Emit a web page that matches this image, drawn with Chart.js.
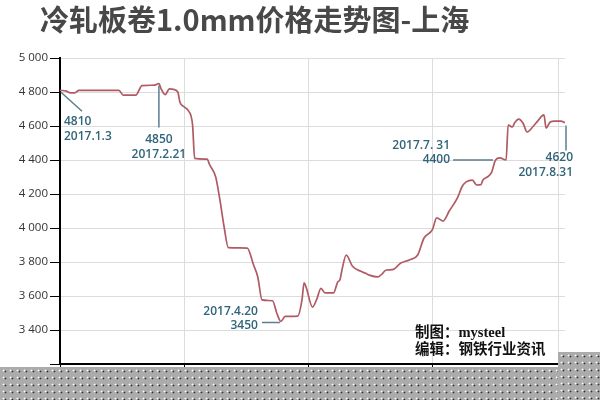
<!DOCTYPE html>
<html>
<head>
<meta charset="utf-8">
<script src="https://cdn.jsdelivr.net/npm/chart.js@4.4.1/dist/chart.umd.min.js"></script>
<style>
    html, body { margin: 0; padding: 0; background: #fff; }
    #wrap { position: relative; width: 600px; height: 400px; overflow: hidden; }
    #flow { position: absolute; left: 0; top: 0; }
    .title {
        position: absolute; left: 40px; top: 3px; white-space: nowrap;
        font: bold 29px/31px "Noto Sans CJK SC", sans-serif; color: #484848;
    }
    .credit {
        position: absolute; left: 415px; white-space: nowrap;
        font: bold 14.5px/16px "Liberation Serif", "Noto Sans CJK SC", serif; color: #111;
    }
    .noise {
        position: absolute; background-color: #ababab;
        background-image: radial-gradient(circle, #fff 0.8px, transparent 1.1px),
                          radial-gradient(circle, #333 0.8px, transparent 1.1px);
        background-size: 7px 7px, 7px 7px;
        background-position: 0 0, 2px 1px;
    }
</style>
</head>
<body>
<div id="wrap">
    <canvas id="flow" width="600" height="400"></canvas>
    <div class="title">冷轧板卷1.0mm价格走势图-上海</div>
    <div class="credit" style="top:324px">制图：mysteel</div>
    <div class="credit" style="top:341px">编辑：钢铁行业资讯</div>
    <div class="noise" style="left:0;top:367px;width:600px;height:33px"></div>
    <div class="noise" style="left:558px;top:352px;width:42px;height:48px"></div>
</div>
<script>
// days counted from 2017.1.3
const days = [0, 3, 5, 7, 9, 28, 30, 36, 39, 45,
    47, 48, 50, 52, 54, 56, 57, 59, 61, 63,
    64, 70, 71, 74, 76, 78, 80, 89, 92, 94,
    96, 101, 103, 105, 107, 113, 115, 116, 117, 120,
    122, 124, 126, 130, 132, 133, 134, 136, 139, 143,
    145, 147, 151, 153, 155, 158, 162, 166, 170, 173,
    177, 179, 182, 185, 189, 191, 193, 196, 198, 200,
    201, 203, 205, 207, 209, 212, 213, 215, 216, 218,
    220, 222, 225, 227, 230, 231, 233, 235, 238, 240];
const prices = [4810, 4805, 4795, 4795, 4810, 4810, 4782, 4782, 4838, 4840,
    4850, 4820, 4785, 4818, 4815, 4800, 4740, 4712, 4690, 4606,
    4410, 4405, 4375, 4300, 4165, 4006, 3885, 3882, 3782, 3712,
    3577, 3572, 3500, 3450, 3480, 3482, 3577, 3677, 3650, 3535,
    3580, 3645, 3618, 3618, 3683, 3694, 3753, 3841, 3775, 3745,
    3735, 3723, 3712, 3729, 3753, 3755, 3794, 3812, 3841, 3941,
    3990, 4060, 4041, 4100, 4180, 4241, 4271, 4282, 4253, 4255,
    4282, 4300, 4324, 4400, 4412, 4400, 4606, 4594, 4618, 4641,
    4618, 4565, 4600, 4629, 4665, 4588, 4624, 4629, 4629, 4620];

const yTicks = [3200, 3400, 3600, 3800, 4000, 4200, 4400, 4600, 4800, 5000];
const xGridDays = [0, 59, 118, 177, 237];

// marked points
const markDays = [0, 47, 105, 212, 240];
const markPrices = [4810, 4850, 3450, 4400, 4620];
const markDates = ["2017.1.3", "2017.2.21", "2017.4.20", "2017.7. 31", "2017.8.31"];

// leader line and text placement for each mark, relative to the point
const markLayout = [
    { line: [1, 2, 22, 21], tx: 4, align: "left", rows: [["price", 31], ["date", 46]] },
    { line: [0, 2, 0, 44], tx: 0, align: "center", rows: [["price", 56], ["date", 71]] },
    { line: [-19, 1, -1, 1], tx: -23, align: "right", rows: [["date", -10], ["price", 4.5]] },
    { line: [-53, 0, -13, 0], tx: -56, align: "right", rows: [["date", -14.5], ["price", 0]] },
    { line: [1, 3, 1, 28], tx: 8, align: "right", rows: [["price", 35], ["date", 50]] },
];

const markPlugin = {
    id: "marks",
    afterDatasetsDraw(chart) {
        const { ctx, scales } = chart;
        ctx.save();
        ctx.font = "600 12px 'Open Sans', sans-serif";
        ctx.textBaseline = "middle";
        markDays.forEach((d, i) => {
            const px = scales.x.getPixelForValue(d);
            const py = scales.y.getPixelForValue(markPrices[i]);
            const lay = markLayout[i];
            ctx.strokeStyle = "#5b7f8e";
            ctx.lineWidth = 1.5;
            ctx.beginPath();
            ctx.moveTo(px + lay.line[0], py + lay.line[1]);
            ctx.lineTo(px + lay.line[2], py + lay.line[3]);
            ctx.stroke();
            ctx.fillStyle = "#2f6479";
            ctx.textAlign = lay.align;
            lay.rows.forEach(([kind, dy]) => {
                const txt = kind === "price" ? String(markPrices[i]) : markDates[i];
                ctx.fillText(txt, px + lay.tx, py + dy);
            });
        });
        ctx.restore();
    },
};

new Chart(document.getElementById("flow"), {
    type: "line",
    data: {
        datasets: [{
            data: days.map((d, i) => ({ x: d, y: prices[i] })),
            borderColor: "#b05a63",
            borderWidth: 1.7,
            pointRadius: 0,
            cubicInterpolationMode: "monotone",
            fill: false,
        }],
    },
    options: {
        responsive: false,
        animation: false,
        layout: { padding: { left: 0, right: 35, top: 58, bottom: 32 } },
        plugins: { legend: { display: false }, tooltip: { enabled: false } },
        scales: {
            x: {
                type: "linear",
                min: 0,
                max: 240,
                afterBuildTicks: s => { s.ticks = xGridDays.map(v => ({ value: v })); },
                afterFit: s => { s.height = 4; },
                ticks: { display: false },
                grid: { color: "#dcdcdc", lineWidth: 1, tickLength: 3, tickColor: "#000" },
                border: { color: "#000", width: 2 },
            },
            y: {
                min: 3200,
                max: 5000,
                afterBuildTicks: s => { s.ticks = yTicks.map(v => ({ value: v })); },
                afterFit: s => { s.width = 60; },
                ticks: {
                    padding: 2,
                    color: "#333",
                    font: { family: "'Open Sans', sans-serif", size: 11.5 },
                    callback: v => v === 3200 ? "" : String(v).replace(/(\d)(\d{3})$/, "$1 $2"),
                },
                grid: { color: "#dcdcdc", lineWidth: 1, tickLength: 10, tickColor: "#000" },
                border: { color: "#000", width: 2 },
            },
        },
    },
    plugins: [markPlugin],
});
</script>
</body>
</html>
